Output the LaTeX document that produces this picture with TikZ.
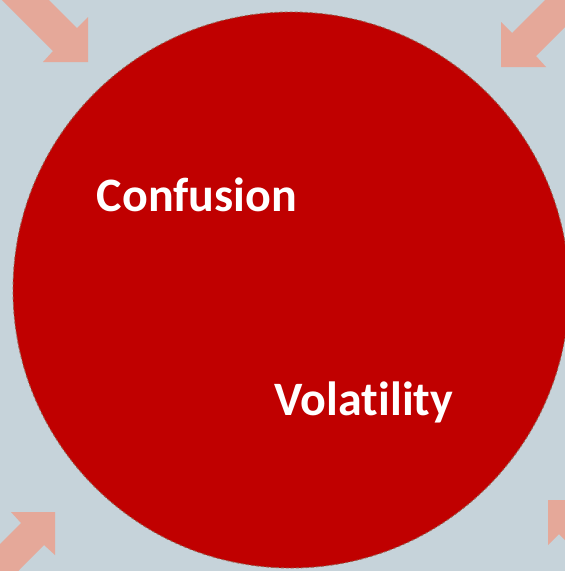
\documentclass[tikz,border=0pt]{standalone}
\usepackage{fontspec}
\setmainfont[Ligatures=NoCommon]{Carlito}
\definecolor{bg}{HTML}{C6D3DA}
\definecolor{arr}{HTML}{E5A899}
\definecolor{disc}{HTML}{C00000}
\definecolor{rim}{HTML}{9A5E4E}
\begin{document}
\begin{tikzpicture}[x=1pt,y=-1pt,
  blockarrow/.style={fill=arr,draw=none},
  word/.style={text=white,font=\bfseries\fontsize{48}{50}\selectfont,inner sep=0pt}]
\useasboundingbox (0,0) rectangle (565,571);
\fill[bg] (0,0) rectangle (565,571);
\begin{scope}
\clip (0,0) rectangle (565,571);
% top-left arrow
\fill[blockarrow] (88,62) -- (88,17) -- (77,28) -- (-23,-72) -- (-47,-49) -- (53,51) -- (43,62) -- cycle;
% top-right arrow
\fill[blockarrow] (501,67) -- (501,22) -- (512,33) -- (612,-67) -- (636,-44) -- (536,56) -- (546,67) -- cycle;
% bottom-left arrow
\fill[blockarrow] (55,512) -- (11,512) -- (21,523) -- (-79,623) -- (-56,646) -- (44,545) -- (55,555) -- cycle;
% bottom-right arrow
\fill[blockarrow] (548,500) -- (548,545) -- (559,534) -- (659,634) -- (682,611) -- (582,511) -- (593,500) -- cycle;
% disc
\node[circle,minimum size=556pt,inner sep=0pt,fill=disc,draw=rim,line width=0.9pt,dash pattern=on 3pt off 2pt] (disc) at (291,290) {};
\end{scope}
\node[word] (confusion) at (197,195) {Confusion};
\node[word] (volatility) at (364,402) {Volatility};
\end{tikzpicture}
\end{document}
